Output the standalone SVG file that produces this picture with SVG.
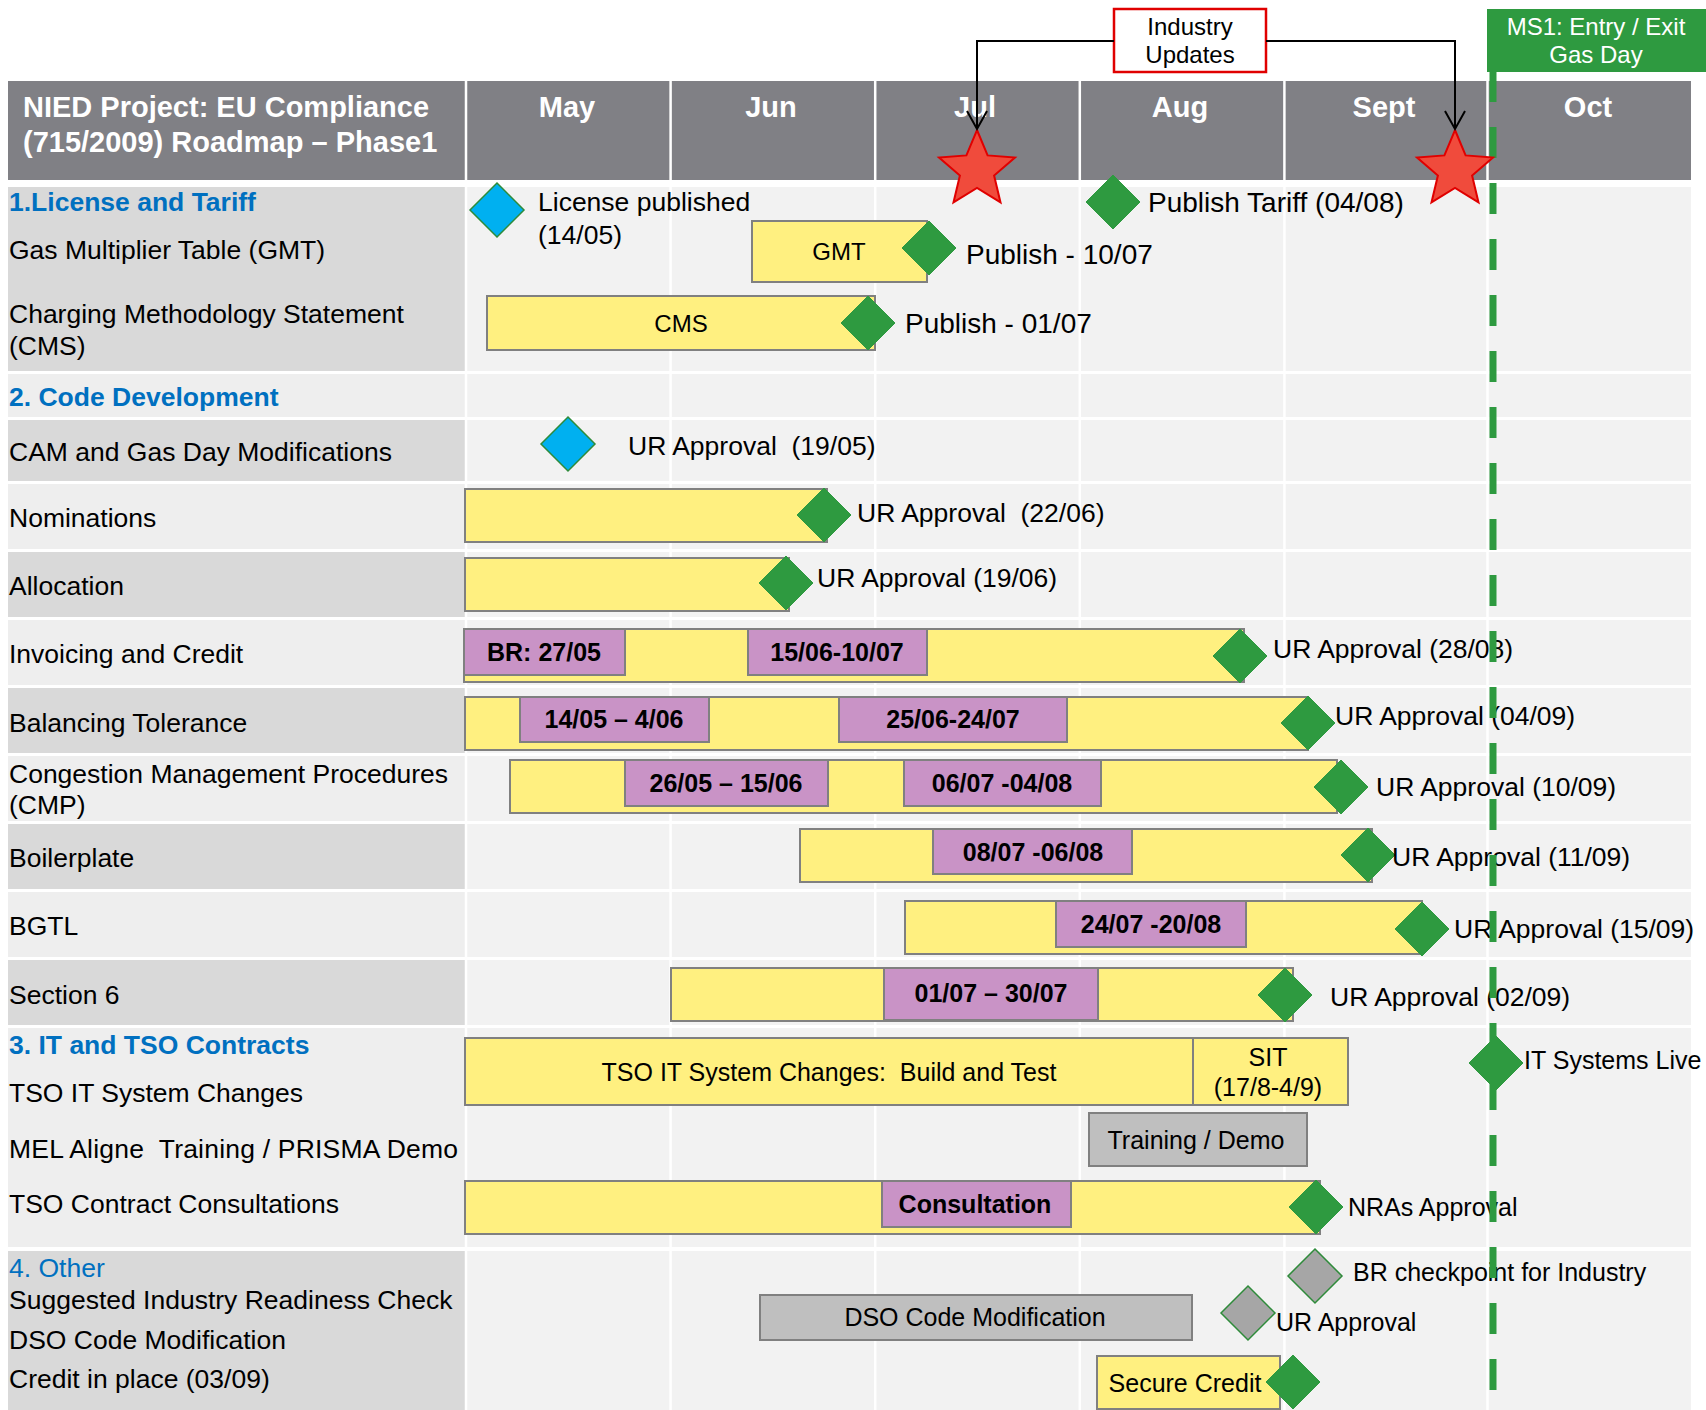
<svg xmlns="http://www.w3.org/2000/svg" width="1706" height="1410" viewBox="0 0 1706 1410">
<style>
text{font-family:"Liberation Sans",Arial,sans-serif;fill:#000;white-space:pre}
.hd{font-size:29px;font-weight:bold;fill:#fff}
.mo{font-size:29px;font-weight:bold;fill:#fff;text-anchor:middle}
.lb{font-size:26.5px}
.sec{font-size:26.5px;font-weight:bold;fill:#0070c0}
.sec2{font-size:26.5px;fill:#0070c0}
.ml{font-size:26.5px}
.mp{font-size:28px}
.ml2{font-size:25px}
.bt{font-size:24px;text-anchor:middle}
.bt2{font-size:25px;text-anchor:middle}
.pt{font-size:25px;font-weight:bold;text-anchor:middle}
.bx{font-size:24px;text-anchor:middle}
.bxw{font-size:24px;text-anchor:middle;fill:#fff}
.dk{fill:#d9d9d9}
.lt{fill:#eeeeee}
.rt{fill:#f2f2f2}
.yb{fill:#fff080;stroke:#808080;stroke-width:2}
.pb{fill:#c993c6;stroke:#808080;stroke-width:2}
.gb{fill:#bfbfbf;stroke:#808080;stroke-width:2}
.dg{fill:#2e9a40;stroke:#2e9a40;stroke-width:1}
.db{fill:#00b0f0;stroke:#2e8b3a;stroke-width:1.5}
.dy{fill:#a6a6a6;stroke:#2e8b3a;stroke-width:1.5}
.star{fill:#f04b3c;stroke:#e00000;stroke-width:2}
.sep{stroke:#ffffff;stroke-width:2.5}
.con{fill:none;stroke:#000;stroke-width:2}
</style>
<defs>
<path id="dia" d="M0,-27 L27,0 L0,27 L-27,0 Z"/>
<polygon id="star" points="0,-40 10.6,-14.6 38,-12.4 17.1,5.6 23.5,32.4 0,18 -23.5,32.4 -17.1,5.6 -38,-12.4 -10.6,-14.6"/>
<marker id="arr" markerUnits="userSpaceOnUse" markerWidth="24" markerHeight="24" viewBox="0 0 24 24" refX="20" refY="12" orient="auto">
<path d="M2,2 L20,12 L2,22" fill="none" stroke="#000" stroke-width="2"/>
</marker>
</defs>
<rect x="0" y="0" width="1706" height="1410" fill="#ffffff"/>

<g id="grid">
<rect x="8" y="81" width="1683" height="99" fill="#808085"/>
<rect x="8" y="187" width="457" height="184" class="dk"/><rect x="465" y="187" width="1226" height="184" class="rt"/>
<rect x="8" y="374" width="457" height="43" class="lt"/><rect x="465" y="374" width="1226" height="43" class="rt"/>
<rect x="8" y="420" width="457" height="61" class="dk"/><rect x="465" y="420" width="1226" height="61" class="rt"/>
<rect x="8" y="484" width="457" height="65" class="lt"/><rect x="465" y="484" width="1226" height="65" class="rt"/>
<rect x="8" y="552" width="457" height="65" class="dk"/><rect x="465" y="552" width="1226" height="65" class="rt"/>
<rect x="8" y="620" width="457" height="65" class="lt"/><rect x="465" y="620" width="1226" height="65" class="rt"/>
<rect x="8" y="688" width="457" height="65" class="dk"/><rect x="465" y="688" width="1226" height="65" class="rt"/>
<rect x="8" y="756" width="457" height="65" class="lt"/><rect x="465" y="756" width="1226" height="65" class="rt"/>
<rect x="8" y="824" width="457" height="65" class="dk"/><rect x="465" y="824" width="1226" height="65" class="rt"/>
<rect x="8" y="892" width="457" height="65" class="lt"/><rect x="465" y="892" width="1226" height="65" class="rt"/>
<rect x="8" y="960" width="457" height="65" class="dk"/><rect x="465" y="960" width="1226" height="65" class="rt"/>
<rect x="8" y="1028" width="457" height="219" class="lt"/><rect x="465" y="1028" width="1226" height="219" class="rt"/>
<rect x="8" y="1251" width="457" height="159" class="dk"/><rect x="465" y="1251" width="1226" height="159" class="rt"/>
<line x1="466" y1="81" x2="466" y2="1410" class="sep"/>
<line x1="670.6" y1="81" x2="670.6" y2="1410" class="sep"/>
<line x1="875.2" y1="81" x2="875.2" y2="1410" class="sep"/>
<line x1="1079.8" y1="81" x2="1079.8" y2="1410" class="sep"/>
<line x1="1284.4" y1="81" x2="1284.4" y2="1410" class="sep"/>
<line x1="1487.5" y1="81" x2="1487.5" y2="1410" class="sep"/>
</g>

<g id="header">
<text class="hd" x="23" y="117">NIED Project: EU Compliance</text>
<text class="hd" x="23" y="152">(715/2009) Roadmap – Phase1</text>
<text class="mo" x="567" y="117">May</text>
<text class="mo" x="771" y="117">Jun</text>
<text class="mo" x="975" y="117">Jul</text>
<text class="mo" x="1180" y="117">Aug</text>
<text class="mo" x="1384" y="117">Sept</text>
<text class="mo" x="1588" y="117">Oct</text>
</g>

<g id="row-labels">
<text class="sec" x="9" y="211">1.License and Tariff</text>
<text class="lb" x="9" y="259">Gas Multiplier Table (GMT)</text>
<text class="lb" x="9" y="323">Charging Methodology Statement</text>
<text class="lb" x="9" y="355">(CMS)</text>
<text class="sec" x="9" y="406">2. Code Development</text>
<text class="lb" x="9" y="461">CAM and Gas Day Modifications</text>
<text class="lb" x="9" y="527">Nominations</text>
<text class="lb" x="9" y="595">Allocation</text>
<text class="lb" x="9" y="663">Invoicing and Credit</text>
<text class="lb" x="9" y="732">Balancing Tolerance</text>
<text class="lb" x="9" y="783">Congestion Management Procedures</text>
<text class="lb" x="9" y="814">(CMP)</text>
<text class="lb" x="9" y="867">Boilerplate</text>
<text class="lb" x="9" y="935">BGTL</text>
<text class="lb" x="9" y="1004">Section 6</text>
<text class="sec" x="9" y="1054">3. IT and TSO Contracts</text>
<text class="lb" x="9" y="1102">TSO IT System Changes</text>
<text class="lb" x="9" y="1158" textLength="449">MEL Aligne  Training / PRISMA Demo</text>
<text class="lb" x="9" y="1213">TSO Contract Consultations</text>
<text class="sec2" x="9" y="1277">4. Other</text>
<text class="lb" x="9" y="1309">Suggested Industry Readiness Check</text>
<text class="lb" x="9" y="1349">DSO Code Modification</text>
<text class="lb" x="9" y="1388">Credit in place (03/09)</text>
</g>

<g id="license">
<use href="#dia" x="497" y="210" class="db"/>
<text class="ml" x="538" y="211">License published</text>
<text class="ml" x="538" y="244">(14/05)</text>
</g>
<g id="gmt">
<rect x="752" y="221" width="175" height="61" class="yb"/>
<text class="bt" x="839" y="260">GMT</text>
<use href="#dia" x="929" y="248" class="dg"/>
<text class="mp" x="966" y="264">Publish - 10/07</text>
</g>
<g id="tariff">
<use href="#dia" x="1113" y="202" class="dg"/>
<text class="mp" x="1148" y="212">Publish Tariff (04/08)</text>
</g>
<g id="cms">
<rect x="487" y="296" width="388" height="54" class="yb"/>
<text class="bt" x="681" y="332">CMS</text>
<use href="#dia" x="868" y="323" class="dg"/>
<text class="mp" x="905" y="333">Publish - 01/07</text>
</g>

<g id="cam">
<use href="#dia" x="568" y="444" class="db"/>
<text class="ml" x="628" y="455">UR Approval  (19/05)</text>
</g>
<g id="nominations">
<rect x="465" y="489" width="362" height="53" class="yb"/>
<use href="#dia" x="824" y="515" class="dg"/>
<text class="ml" x="857" y="522">UR Approval  (22/06)</text>
</g>
<g id="allocation">
<rect x="465" y="558" width="324" height="53" class="yb"/>
<use href="#dia" x="786" y="583" class="dg"/>
<text class="ml" x="817" y="587">UR Approval (19/06)</text>
</g>
<g id="invoicing">
<rect x="464" y="629" width="780" height="53" class="yb"/>
<rect x="464" y="629" width="161" height="46" class="pb"/>
<text class="pt" x="544" y="661">BR: 27/05</text>
<rect x="748" y="629" width="179" height="46" class="pb"/>
<text class="pt" x="837" y="661">15/06-10/07</text>
<use href="#dia" x="1240" y="656" class="dg"/>
<text class="ml" x="1273" y="658">UR Approval (28/08)</text>
</g>
<g id="balancing">
<rect x="465" y="697" width="843" height="53" class="yb"/>
<rect x="520" y="697" width="189" height="45" class="pb"/>
<text class="pt" x="614" y="728">14/05 – 4/06</text>
<rect x="839" y="697" width="228" height="45" class="pb"/>
<text class="pt" x="953" y="728">25/06-24/07</text>
<use href="#dia" x="1308" y="723" class="dg"/>
<text class="ml" x="1335" y="725">UR Approval (04/09)</text>
</g>
<g id="cmp">
<rect x="510" y="760" width="827" height="53" class="yb"/>
<rect x="625" y="760" width="203" height="46" class="pb"/>
<text class="pt" x="726" y="792">26/05 – 15/06</text>
<rect x="904" y="760" width="197" height="46" class="pb"/>
<text class="pt" x="1002" y="792">06/07 -04/08</text>
<use href="#dia" x="1341" y="787" class="dg"/>
<text class="ml" x="1376" y="796">UR Approval (10/09)</text>
</g>
<g id="boilerplate">
<rect x="800" y="829" width="572" height="53" class="yb"/>
<rect x="933" y="829" width="199" height="45" class="pb"/>
<text class="pt" x="1033" y="861">08/07 -06/08</text>
<use href="#dia" x="1368" y="855" class="dg"/>
<text class="ml" x="1392" y="866">UR Approval (11/09)</text>
</g>
<g id="bgtl">
<rect x="905" y="901" width="517" height="53" class="yb"/>
<rect x="1056" y="901" width="190" height="46" class="pb"/>
<text class="pt" x="1151" y="933">24/07 -20/08</text>
<use href="#dia" x="1422" y="929" class="dg"/>
<text class="ml" x="1454" y="938">UR Approval (15/09)</text>
</g>
<g id="section6">
<rect x="671" y="968" width="622" height="53" class="yb"/>
<rect x="884" y="968" width="214" height="52" class="pb"/>
<text class="pt" x="991" y="1002">01/07 – 30/07</text>
<use href="#dia" x="1285" y="995" class="dg"/>
<text class="ml" x="1330" y="1006">UR Approval (02/09)</text>
</g>

<g id="tso-it">
<rect x="465" y="1038" width="728" height="67" class="yb"/>
<text class="bt2" x="829" y="1081">TSO IT System Changes:  Build and Test</text>
<rect x="1193" y="1038" width="155" height="67" class="yb"/>
<text class="bt2" x="1268" y="1066">SIT</text>
<text class="bt2" x="1268" y="1096">(17/8-4/9)</text>
</g>
<g id="training">
<rect x="1089" y="1113" width="218" height="53" class="gb"/>
<text class="bt2" x="1196" y="1149">Training / Demo</text>
</g>
<g id="tso-contract">
<rect x="465" y="1181" width="855" height="53" class="yb"/>
<rect x="882" y="1181" width="189" height="46" class="pb"/>
<text class="pt" x="975" y="1213">Consultation</text>
<use href="#dia" x="1316" y="1207" class="dg"/>
<text class="ml2" x="1348" y="1216">NRAs Approval</text>
</g>
<g id="br-checkpoint">
<use href="#dia" x="1315" y="1276" class="dy"/>
<text class="ml2" x="1353" y="1281">BR checkpoint for Industry</text>
</g>
<g id="dso">
<rect x="760" y="1295" width="432" height="45" class="gb"/>
<text class="bt2" x="975" y="1326">DSO Code Modification</text>
<use href="#dia" x="1248" y="1313" class="dy"/>
<text class="ml2" x="1276" y="1331">UR Approval</text>
</g>
<g id="secure-credit">
<rect x="1097" y="1356" width="183" height="53" class="yb"/>
<text class="bt2" x="1185" y="1392">Secure Credit</text>
<use href="#dia" x="1293" y="1382" class="dg"/>
</g>

<g id="ms1-line">
<line x1="1493" y1="71" x2="1493" y2="1390" stroke="#2e9a40" stroke-width="7" stroke-dasharray="31 25"/>
</g>
<g id="it-live">
<use href="#dia" x="1496" y="1063" class="dg"/>
<text class="ml2" x="1524" y="1069">IT Systems Live</text>
</g>

<g id="stars">
<use href="#star" x="977" y="170" class="star"/>
<use href="#star" x="1455" y="170" class="star"/>
</g>

<g id="industry-updates">
<rect x="1114" y="9" width="152" height="63" fill="#ffffff" stroke="#e00000" stroke-width="2.5"/>
<text class="bx" x="1190" y="35">Industry</text>
<text class="bx" x="1190" y="63">Updates</text>
</g>
<g id="ms1">
<rect x="1487" y="9" width="219" height="63" fill="#2e9a40"/>
<text class="bxw" x="1596" y="35">MS1: Entry / Exit</text>
<text class="bxw" x="1596" y="63">Gas Day</text>
</g>

<g id="connectors">
<polyline points="1114,41 977,41 977,129" class="con" marker-end="url(#arr)"/>
<polyline points="1266,41 1455,41 1455,129" class="con" marker-end="url(#arr)"/>
</g>
</svg>
